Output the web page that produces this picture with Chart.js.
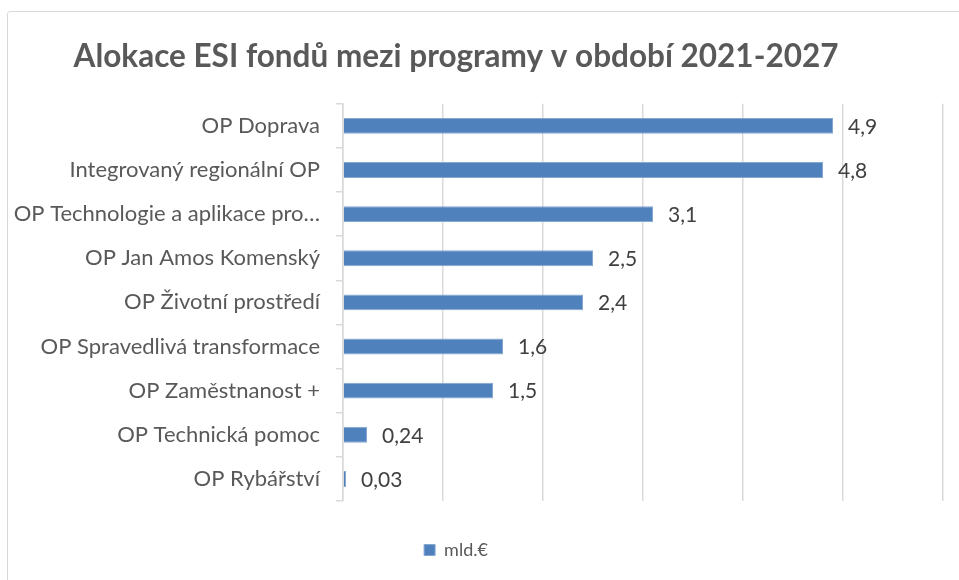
<!DOCTYPE html>
<html lang="cs">
<head>
<meta charset="utf-8">
<script src="https://cdn.jsdelivr.net/npm/chart.js@4.4.1/dist/chart.umd.min.js"></script>
<style>
  html, body { margin: 0; padding: 0; background: #fff; overflow: hidden; }
  #frame {
    position: absolute; left: 7px; top: 11px; width: 1000px; height: 620px;
    border: 1.5px solid #d9d9d9; border-radius: 3px;
  }
  /* canvas pushed left a bit so title + legend sit where Excel put them */
  #wrap { position: absolute; left: -31px; top: 0; width: 990px; height: 580px; }
</style>
</head>
<body>
<div id="frame"></div>
<div id="wrap"><canvas id="chart"></canvas></div>
<script>
var categories = [
  "OP Doprava",
  "Integrovaný regionální OP",
  "OP Technologie a aplikace pro\u2026",
  "OP Jan Amos Komenský",
  "OP Životní prostředí",
  "OP Spravedlivá transformace",
  "OP Zaměstnanost +",
  "OP Technická pomoc",
  "OP Rybářství"
];
var allocation = [4.9, 4.8, 3.1, 2.5, 2.4, 1.6, 1.5, 0.24, 0.03];
var seriesName = "mld.€";
var axisMin = 0, axisMax = 6, axisStep = 1;

var grey = "#d9d9d9";
var textGrey = "#595959";

// value labels right of each bar, Czech decimal comma
var barLabels = {
  id: "barLabels",
  afterDatasetsDraw: function (chart) {
    var ctx = chart.ctx;
    var meta = chart.getDatasetMeta(0);
    ctx.save();
    ctx.font = "21px Lato";
    ctx.fillStyle = "#404040";
    ctx.textAlign = "left";
    ctx.textBaseline = "middle";
    meta.data.forEach(function (bar, i) {
      var txt = String(allocation[i]).replace(".", ",");
      ctx.fillText(txt, bar.x + 15, bar.y + 1);
    });
    ctx.restore();
  }
};

new Chart(document.getElementById("chart"), {
  type: "bar",
  data: {
    labels: categories,
    datasets: [{
      label: seriesName,
      data: allocation,
      backgroundColor: "#4f81bd",
      borderColor: "#86a7d0",
      borderWidth: 1,
      categoryPercentage: 1,
      barPercentage: 0.36
    }]
  },
  options: {
    indexAxis: "y",
    responsive: true,
    maintainAspectRatio: false,
    animation: false,
    layout: { padding: { left: 0, right: 16, top: 0, bottom: 11 } },
    plugins: {
      title: {
        display: true,
        text: "Alokace ESI fondů mezi programy v období 2021-2027",
        color: textGrey,
        font: { family: "Lato", size: 31.5, weight: "bold" },
        padding: { top: 38, bottom: 28 }
      },
      legend: {
        position: "bottom",
        labels: {
          boxWidth: 11,
          boxHeight: 11,
          color: textGrey,
          font: { family: "Lato", size: 18 },
          padding: 10
        }
      },
      tooltip: { enabled: false }
    },
    scales: {
      x: {
        min: axisMin,
        max: axisMax,
        ticks: { display: false, stepSize: axisStep },
        grid: { color: grey, lineWidth: 1.5, drawTicks: false },
        border: { display: false },
        afterFit: function (scale) { scale.height = 30; }
      },
      y: {
        ticks: {
          color: textGrey,
          font: { family: "Lato", size: 22 },
          padding: 16,
          autoSkip: false
        },
        grid: { drawOnChartArea: false, color: grey, lineWidth: 1.5, tickLength: 7 },
        border: { display: true, color: grey, width: 1.5 },
        afterFit: function (scale) { scale.width = 374; }
      }
    }
  },
  plugins: [barLabels]
});
</script>
</body>
</html>
